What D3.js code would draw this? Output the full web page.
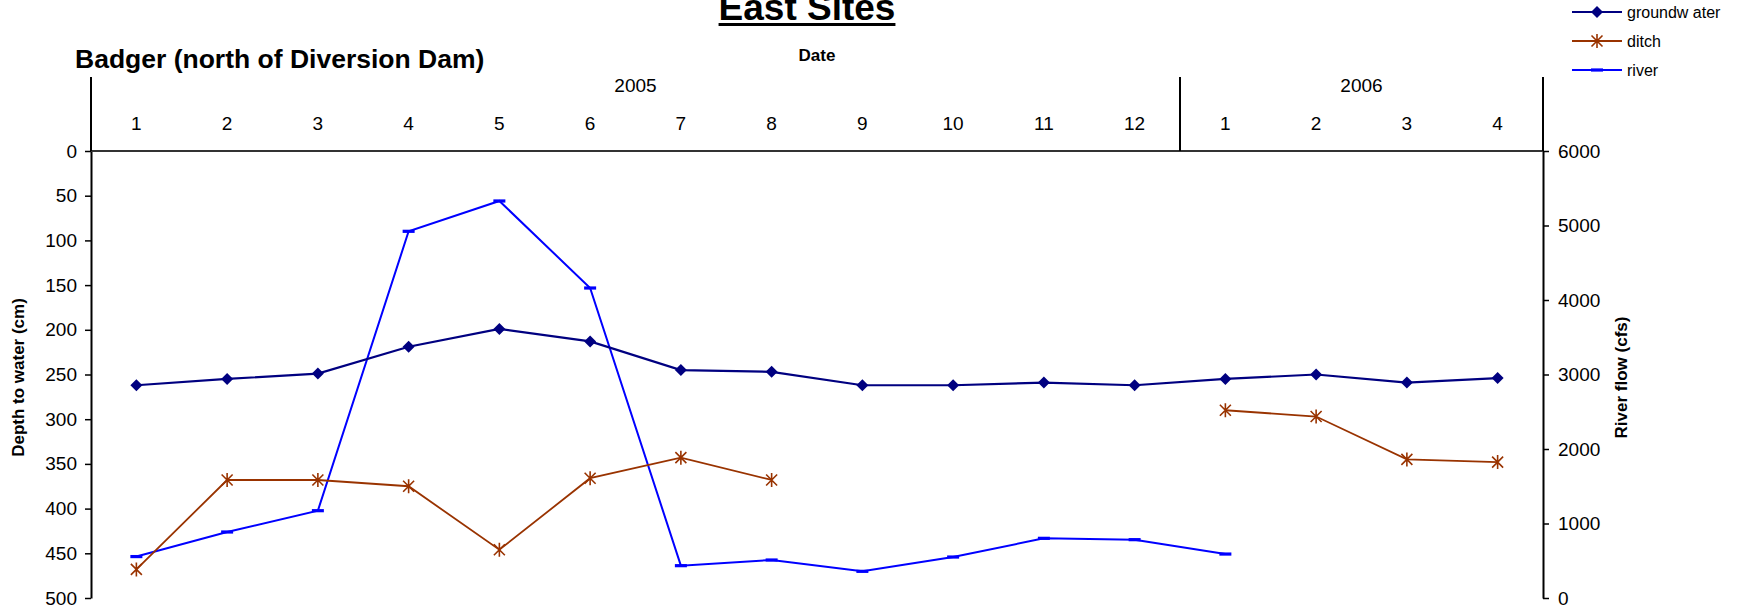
<!DOCTYPE html>
<html>
<head>
<meta charset="utf-8">
<script src="https://cdn.jsdelivr.net/npm/d3@7"></script>
<style>
  html, body { margin: 0; padding: 0; background: #fff; }
  svg { display: block; font-family: "Liberation Sans", Arial, sans-serif; }
</style>
</head>
<body>
<svg id="chart" width="1764" height="613"></svg>
<script>
// ---- data ----
const months = ["1","2","3","4","5","6","7","8","9","10","11","12","1","2","3","4"];
const yearLabels = ["2005", "2006"];
const yearSpans = [12, 4];
const groundwater = [262, 255, 249, 219, 199, 213, 245, 247, 262, 262, 259, 262, 255, 250, 259, 254];
const ditch = [468, 368, 368, 375, 446, 366, 343, 368, null, null, null, null, 290, 297, 345, 348];
const river = [556, 886, 1172, 4922, 5329, 4161, 434, 510, 358, 550, 801, 783, 590, null, null, null];
const depthTicks = [0, 50, 100, 150, 200, 250, 300, 350, 400, 450, 500];
const flowTicks = [0, 1000, 2000, 3000, 4000, 5000, 6000];
const seriesNames = ["groundw ater", "ditch", "river"];

// ---- layout ----
const svg = d3.select("#chart");
const X0 = 91, X1 = 1543, YT = 151, YB = 598, YHEAD = 77;
const colGW = "#000080", colDitch = "#993300", colRiver = "#0000FF";

const x = d3.scaleBand().domain(d3.range(months.length)).range([X0, X1]).padding(0);
const cx = i => x(i) + x.bandwidth() / 2;
const yL = d3.scaleLinear().domain([0, 500]).range([YT, YB]);
const yR = d3.scaleLinear().domain([0, 6000]).range([YB, YT]);

// ---- axes ----
const leftAxis = d3.axisLeft(yL).tickValues(depthTicks).tickFormat(d3.format("d"))
  .tickSize(6).tickSizeOuter(0).tickPadding(8);
const gL = svg.append("g").attr("transform", `translate(${X0},0)`).call(leftAxis);
const rightAxis = d3.axisRight(yR).tickValues(flowTicks).tickFormat(d3.format("d"))
  .tickSize(6).tickSizeOuter(0).tickPadding(9);
const gR = svg.append("g").attr("transform", `translate(${X1},0)`).call(rightAxis);
[gL, gR].forEach(g => {
  g.select(".domain").attr("stroke", "#000").attr("stroke-width", 2);
  g.selectAll(".tick line").attr("stroke", "#000").attr("stroke-width", 1.5);
  g.selectAll(".tick text").attr("font-size", 19).attr("fill", "#000")
    .attr("font-family", "'Liberation Sans', Arial, sans-serif");
});

// category axis line (at depth 0, top of plot)
svg.append("line").attr("x1", X0).attr("x2", X1).attr("y1", YT).attr("y2", YT)
  .attr("stroke", "#333").attr("stroke-width", 2.2);

// year group separators (incl. extension of left/right axes)
let acc = 0;
const bounds = [0];
yearSpans.forEach(s => { acc += s; bounds.push(acc); });
bounds.forEach(b => {
  const xx = b < months.length ? x(b) : X1;
  svg.append("line").attr("x1", xx).attr("x2", xx).attr("y1", YHEAD).attr("y2", YT)
    .attr("stroke", "#000").attr("stroke-width", 2);
});

// month labels
svg.append("g").selectAll("text").data(months).join("text")
  .attr("x", (d, i) => cx(i)).attr("y", 130)
  .attr("text-anchor", "middle").attr("font-size", 19).attr("fill", "#000")
  .text(d => d);

// year labels
svg.append("g").selectAll("text").data(yearLabels).join("text")
  .attr("x", (d, i) => {
    const a = x(bounds[i]);
    const b = bounds[i + 1] < months.length ? x(bounds[i + 1]) : X1;
    return (a + b) / 2;
  })
  .attr("y", 92).attr("text-anchor", "middle").attr("font-size", 19).attr("fill", "#000")
  .text(d => d);

// ---- titles ----
const title = svg.append("text").attr("x", 807).attr("y", 20).attr("text-anchor", "middle")
  .attr("font-size", 37).attr("font-weight", "bold").attr("fill", "#000").text("East Sites");
const tw = title.node().getComputedTextLength();
svg.append("rect").attr("x", 807 - tw / 2).attr("y", 23).attr("width", tw).attr("height", 3).attr("fill", "#000");

svg.append("text").attr("x", 75).attr("y", 68).attr("font-size", 26.5).attr("font-weight", "bold")
  .attr("fill", "#000").text("Badger (north of Diversion Dam)");

svg.append("text").attr("x", (X0 + X1) / 2).attr("y", 61).attr("text-anchor", "middle")
  .attr("font-size", 17).attr("font-weight", "bold").attr("fill", "#000").text("Date");

svg.append("text").attr("transform", `translate(18,${(YT + YB) / 2 + 3}) rotate(-90)`)
  .attr("text-anchor", "middle").attr("dominant-baseline", "central")
  .attr("font-size", 17).attr("font-weight", "bold").attr("fill", "#000").text("Depth to water (cm)");

svg.append("text").attr("transform", `translate(1621,${(YT + YB) / 2 + 3}) rotate(-90)`)
  .attr("text-anchor", "middle").attr("dominant-baseline", "central")
  .attr("font-size", 17).attr("font-weight", "bold").attr("fill", "#000").text("River flow (cfs)");

// ---- markers ----
function diamond(g, color) {
  g.append("path").attr("d", "M0,-6L6,0L0,6L-6,0Z").attr("fill", color);
}
function asterisk(g, color) {
  g.append("path").attr("d", "M0,-7V7M-5.5,-5.5L5.5,5.5M-5.5,5.5L5.5,-5.5")
    .attr("stroke", color).attr("stroke-width", 1.6).attr("fill", "none");
}
function dash(g, color) {
  g.append("rect").attr("x", -6).attr("y", -1.6).attr("width", 12).attr("height", 3.2).attr("fill", color);
}

// ---- series ----
const series = [
  { name: seriesNames[0], values: groundwater, y: yL, color: colGW, width: 2.2, marker: diamond },
  { name: seriesNames[1], values: ditch, y: yL, color: colDitch, width: 1.8, marker: asterisk },
  { name: seriesNames[2], values: river, y: yR, color: colRiver, width: 2, marker: dash }
];

const plot = svg.append("g");
[series[2], series[1], series[0]].forEach(s => {
  const line = d3.line().defined(d => d != null).x((d, i) => cx(i)).y(d => s.y(d));
  plot.append("path").datum(s.values).attr("d", line)
    .attr("fill", "none").attr("stroke", s.color).attr("stroke-width", s.width);
  s.values.forEach((v, i) => {
    if (v == null) return;
    const g = plot.append("g").attr("transform", `translate(${cx(i)},${s.y(v)})`);
    s.marker(g, s.color);
  });
});

// ---- legend ----
const legend = svg.append("g");
const legY = [12, 41, 70];
series.forEach((s, i) => {
  legend.append("line").attr("x1", 1572).attr("x2", 1622).attr("y1", legY[i]).attr("y2", legY[i])
    .attr("stroke", s.color).attr("stroke-width", 2);
  const g = legend.append("g").attr("transform", `translate(1597,${legY[i]})`);
  s.marker(g, s.color);
  legend.append("text").attr("x", 1627).attr("y", legY[i]).attr("dominant-baseline", "central")
    .attr("font-size", 16).attr("fill", "#000").text(s.name);
});
</script>
</body>
</html>
